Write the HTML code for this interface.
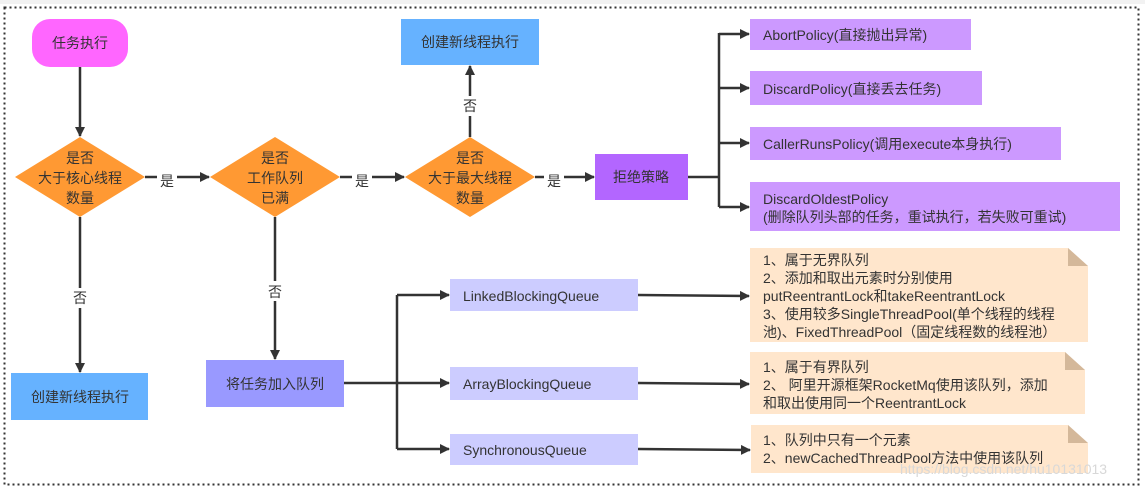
<!DOCTYPE html>
<html><head><meta charset="utf-8"><style>
html,body{margin:0;padding:0;background:#fff;}
svg{display:block;}
text{font-family:"Liberation Sans","Noto Sans CJK SC",sans-serif;font-size:14px;fill:#333;}
</style></head><body>
<svg width="1145" height="489" viewBox="0 0 1145 489" xmlns="http://www.w3.org/2000/svg">
<defs>
<marker id="a" markerWidth="10" markerHeight="10" refX="9" refY="5" orient="auto" markerUnits="userSpaceOnUse" viewBox="0 0 10 10">
<path d="M0,0 L10,5 L0,10 Z" fill="#333"/></marker>
</defs>
<rect x="0" y="0" width="1145" height="4" fill="#f2f2f2"/>
<rect x="4.5" y="7.5" width="1134" height="477" fill="none" stroke="#333" stroke-width="2" stroke-dasharray="2,3"/>

<g stroke="#333" stroke-width="2.5" fill="none">
<line x1="80" y1="67" x2="80" y2="136" marker-end="url(#a)"/>
<line x1="145" y1="177" x2="209" y2="177" marker-end="url(#a)"/>
<line x1="340" y1="177" x2="404" y2="177" marker-end="url(#a)"/>
<line x1="535" y1="177" x2="594" y2="177" marker-end="url(#a)"/>
<line x1="470" y1="137" x2="470" y2="66" marker-end="url(#a)"/>
<line x1="80" y1="217" x2="80" y2="372" marker-end="url(#a)"/>
<line x1="275" y1="217" x2="275" y2="359" marker-end="url(#a)"/>
<line x1="688" y1="177" x2="719" y2="177"/>
<polyline points="719,33 719,207"/>
<line x1="719" y1="34" x2="749" y2="34" marker-end="url(#a)"/>
<line x1="719" y1="88" x2="749" y2="88" marker-end="url(#a)"/>
<line x1="719" y1="143" x2="749" y2="143" marker-end="url(#a)"/>
<line x1="719" y1="207" x2="749" y2="207" marker-end="url(#a)"/>
<line x1="344" y1="383" x2="449" y2="383" marker-end="url(#a)"/>
<polyline points="397,295 397,449"/>
<line x1="397" y1="295" x2="449" y2="295" marker-end="url(#a)"/>
<line x1="397" y1="449" x2="449" y2="449" marker-end="url(#a)"/>
<line x1="638" y1="295" x2="749" y2="296" marker-end="url(#a)"/>
<line x1="638" y1="383" x2="749" y2="384" marker-end="url(#a)"/>
<line x1="638" y1="449" x2="750" y2="450" marker-end="url(#a)"/>
</g>

<rect x="32" y="19" width="96" height="48" rx="18" fill="#ff66ff"/>
<text x="80" y="48" text-anchor="middle" font-size="16">任务执行</text>

<polygon points="80,137 145,177 80,217 15,177" fill="#ff9933"/>
<text x="80" y="163" text-anchor="middle" font-size="15">是否</text>
<text x="80" y="183" text-anchor="middle" font-size="15">大于核心线程</text>
<text x="80" y="203" text-anchor="middle" font-size="15">数量</text>

<polygon points="275,137 340,177 275,217 210,177" fill="#ff9933"/>
<text x="275" y="163" text-anchor="middle" font-size="15">是否</text>
<text x="275" y="183" text-anchor="middle" font-size="15">工作队列</text>
<text x="275" y="203" text-anchor="middle" font-size="15">已满</text>

<polygon points="470,137 535,177 470,217 405,177" fill="#ff9933"/>
<text x="470" y="163" text-anchor="middle" font-size="15">是否</text>
<text x="470" y="183" text-anchor="middle" font-size="15">大于最大线程</text>
<text x="470" y="203" text-anchor="middle" font-size="15">数量</text>

<rect x="157" y="171" width="20" height="20" fill="#fff"/><text x="167" y="186" text-anchor="middle">是</text>
<rect x="352" y="171" width="20" height="20" fill="#fff"/><text x="362" y="186" text-anchor="middle">是</text>
<rect x="544" y="171" width="20" height="20" fill="#fff"/><text x="554" y="186" text-anchor="middle">是</text>
<rect x="460" y="96" width="20" height="20" fill="#fff"/><text x="470" y="111" text-anchor="middle">否</text>
<rect x="70" y="288" width="20" height="20" fill="#fff"/><text x="80" y="303" text-anchor="middle">否</text>
<rect x="265" y="281" width="20" height="20" fill="#fff"/><text x="275" y="297" text-anchor="middle">否</text>

<rect x="401" y="19" width="138" height="46" fill="#66b2ff"/>
<text x="470" y="47" text-anchor="middle">创建新线程执行</text>
<rect x="11" y="373" width="137" height="47" fill="#66b2ff"/>
<text x="80" y="402" text-anchor="middle">创建新线程执行</text>
<rect x="206" y="360" width="138" height="47" fill="#9999ff"/>
<text x="275" y="389" text-anchor="middle">将任务加入队列</text>
<rect x="595" y="154" width="93" height="46" fill="#b366ff"/>
<text x="641" y="182" text-anchor="middle">拒绝策略</text>

<rect x="750" y="19" width="221" height="31" fill="#cc99ff"/>
<text x="763" y="40" font-size="15">AbortPolicy(直接抛出异常)</text>
<rect x="750" y="71" width="232" height="34" fill="#cc99ff"/>
<text x="763" y="94" font-size="15">DiscardPolicy(直接丢去任务)</text>
<rect x="750" y="127" width="311" height="33" fill="#cc99ff"/>
<text x="763" y="149" font-size="15">CallerRunsPolicy(调用execute本身执行)</text>
<rect x="750" y="182" width="370" height="49" fill="#cc99ff"/>
<text x="763" y="204" font-size="15">DiscardOldestPolicy</text>
<text x="763" y="222">(删除队列头部的任务，重试执行，若失败可重试)</text>

<rect x="450" y="279" width="188" height="32" fill="#ccccff"/>
<text x="463" y="301" font-size="15">LinkedBlockingQueue</text>
<rect x="450" y="367" width="188" height="33" fill="#ccccff"/>
<text x="463" y="389" font-size="15">ArrayBlockingQueue</text>
<rect x="450" y="434" width="188" height="31" fill="#ccccff"/>
<text x="463" y="455" font-size="15">SynchronousQueue</text>

<polygon points="750,248 1068,248 1088,266 1088,342 750,342" fill="#ffe6cc"/>
<polygon points="1068,248 1088,266 1068,266" fill="#d4b89a"/>
<text x="763" y="265" font-size="13.5">1、属于无界队列</text>
<text x="763" y="283" font-size="13.5">2、添加和取出元素时分别使用</text>
<text x="763" y="301" font-size="13.5">putReentrantLock和takeReentrantLock</text>
<text x="763" y="319" font-size="13.5">3、使用较多SingleThreadPool(单个线程的线程</text>
<text x="763" y="337" font-size="13.5">池)、FixedThreadPool（固定线程数的线程池）</text>

<polygon points="750,352 1065,352 1085,370 1085,414 750,414" fill="#ffe6cc"/>
<polygon points="1065,352 1085,370 1065,370" fill="#d4b89a"/>
<text x="763" y="372" font-size="13.5">1、属于有界队列</text>
<text x="763" y="390" font-size="13.5">2、 阿里开源框架RocketMq使用该队列，添加</text>
<text x="763" y="408" font-size="13.5">和取出使用同一个ReentrantLock</text>

<polygon points="751,425 1068,425 1088,443 1088,473 751,473" fill="#ffe6cc"/>
<polygon points="1068,425 1088,443 1068,443" fill="#d4b89a"/>
<text x="763" y="445" font-size="13.5">1、队列中只有一个元素</text>
<text x="763" y="463" font-size="13.5">2、newCachedThreadPool方法中使用该队列</text>

<text x="900" y="474" font-size="15" style="fill:#d8d8d8">https://blog.csdn.net/hu10131013</text>
</svg>
</body></html>
